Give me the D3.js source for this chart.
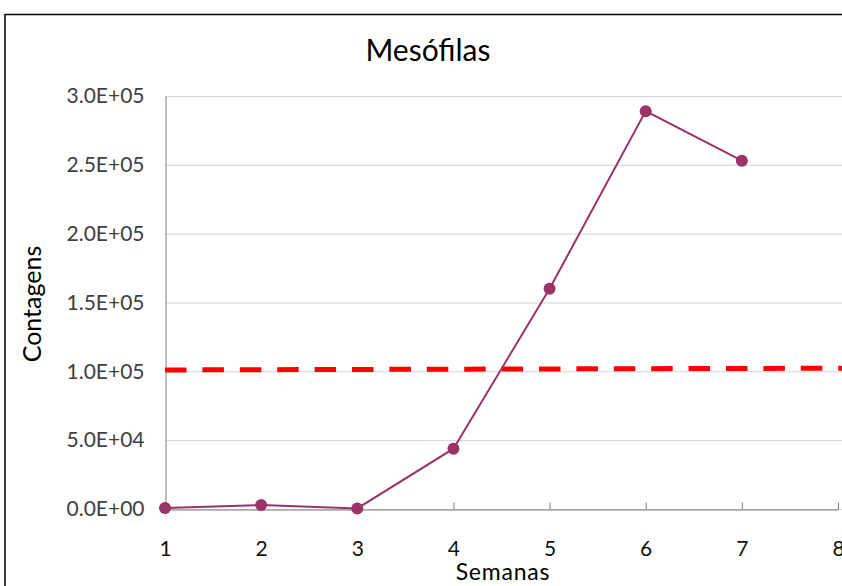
<!DOCTYPE html>
<html><head><meta charset="utf-8">
<script src="https://cdn.jsdelivr.net/npm/d3@7"></script>
<style>body{margin:0;background:#fff}svg{display:block}</style>
</head><body>
<svg id="c" width="842" height="586"></svg>
<script>
const weeks = [1, 2, 3, 4, 5, 6, 7];
const counts = [800, 2900, 400, 43800, 160000, 289000, 253000];
const limitX = [1, 8.05];
const limitY = [101000, 102300];
const yTicks = [0, 50000, 100000, 150000, 200000, 250000, 300000];
const xTicks = [1, 2, 3, 4, 5, 6, 7, 8];
const title = "Mesófilas";
const xTitle = "Semanas";
const yTitle = "Contagens";

const svg = d3.select("#c");
const font = "Lato, 'Open Sans', sans-serif";
svg.append("rect").attr("x", 5).attr("y", 14.5).attr("width", 860).attr("height", 600)
  .attr("fill", "#fff").attr("stroke", "#000").attr("stroke-width", 1.5);

const x = d3.scaleLinear().domain([1, 8]).range([165, 838]);
const y = d3.scaleLinear().domain([0, 300000]).range([509, 96]);

// gridlines
svg.append("g").selectAll("line").data(yTicks).join("line")
  .attr("x1", 165).attr("x2", 842).attr("y1", d => y(d) + 0.5).attr("y2", d => y(d) + 0.5)
  .attr("stroke", "#d4d4d4").attr("stroke-width", 1);

// y axis
const fmt = d => d.toExponential(1).replace("e", "E").replace(/E([+-])(\d)$/, "E$10$2");
const ya = svg.append("g").attr("transform", "translate(165.5,0)")
  .call(d3.axisLeft(y).tickValues(yTicks).tickSize(0).tickPadding(21).tickFormat(fmt));
ya.select(".domain").attr("stroke", "#7f7f7f");
ya.selectAll("text").attr("font-family", font).attr("font-size", 21).attr("fill", "#404040");

// limit line
svg.append("line")
  .attr("x1", x(limitX[0])).attr("y1", y(limitY[0]))
  .attr("x2", x(limitX[1])).attr("y2", y(limitY[1]))
  .attr("stroke", "#ff0000").attr("stroke-width", 5)
  .attr("stroke-dasharray", "21.5,15.9");

// x axis
const xa = svg.append("g").attr("transform", "translate(0,509.5)")
  .call(d3.axisBottom(x).tickValues(xTicks).tickSizeInner(-7).tickSizeOuter(0).tickPadding(32).tickFormat(d3.format("d")));
xa.select(".domain").attr("stroke", "#7f7f7f");
xa.selectAll(".tick line").attr("stroke", "#7f7f7f");
xa.selectAll("text").attr("font-family", font).attr("font-size", 21).attr("fill", "#111");

// series
const col = "#9b3366";
svg.append("path").datum(weeks.map((w, i) => [w, counts[i]]))
  .attr("fill", "none").attr("stroke", col).attr("stroke-width", 2)
  .attr("d", d3.line().x(d => x(d[0])).y(d => y(d[1])));
svg.append("g").selectAll("circle").data(weeks.map((w, i) => [w, counts[i]])).join("circle")
  .attr("cx", d => x(d[0])).attr("cy", d => y(d[1])).attr("r", 6).attr("fill", col);

// titles
svg.append("text").attr("x", 428).attr("y", 61).attr("text-anchor", "middle")
  .attr("font-family", font).attr("font-size", 30).attr("fill", "#000").text(title);
svg.append("text").attr("x", 503).attr("y", 580).attr("text-anchor", "middle")
  .attr("font-family", font).attr("font-size", 23).attr("letter-spacing", 0.8).attr("fill", "#000").text(xTitle);
svg.append("text").attr("transform", "translate(41,304) rotate(-90)").attr("text-anchor", "middle")
  .attr("font-family", font).attr("font-size", 25).attr("fill", "#000").text(yTitle);
</script>
</body></html>
